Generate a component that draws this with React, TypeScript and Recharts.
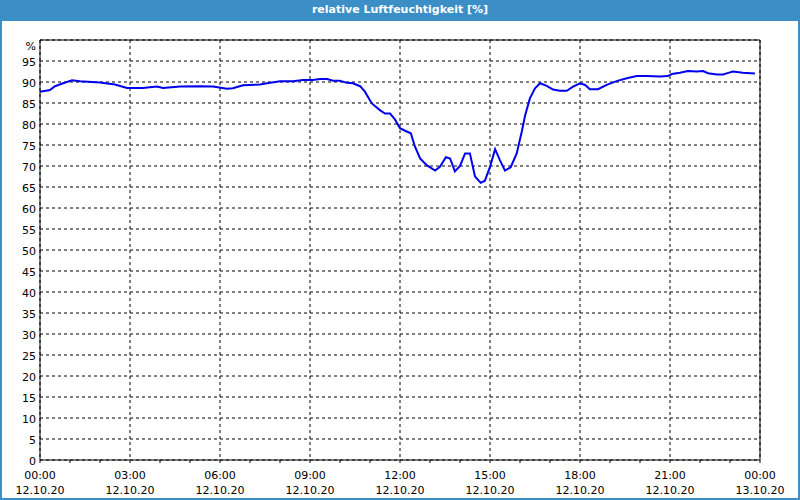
import React from 'react';
import { LineChart, Line, XAxis, YAxis, CartesianGrid, ReferenceLine } from 'recharts';

const hours: number[] = [
  0.0, 0.33, 0.5, 0.77, 1.07, 1.33, 2.0, 2.5, 2.9, 3.43, 3.9, 4.1, 4.67, 5.33, 5.77, 6.23, 6.43, 6.77,
  7.33, 7.57, 8.0, 8.43, 8.77, 9.1, 9.33, 9.57, 9.77, 10.0, 10.23, 10.43, 10.67, 10.83, 11.06, 11.33,
  11.5, 11.67, 11.83, 12.0, 12.17, 12.36, 12.5, 12.67, 12.89, 13.17, 13.33, 13.53, 13.67, 13.83, 14.0,
  14.17, 14.33, 14.5, 14.69, 14.83, 15.0, 15.17, 15.33, 15.5, 15.69, 15.89, 16.06, 16.17, 16.33, 16.5,
  16.67, 16.89, 17.1, 17.33, 17.56, 17.77, 18.0, 18.17, 18.33, 18.6, 18.89, 19.22, 19.56, 19.89, 20.22,
  20.67, 20.93, 21.06, 21.33, 21.6, 21.89, 22.1, 22.27, 22.56, 22.77, 23.0, 23.1, 23.43, 23.83,
];

const humidity: number[] = [
  87.7, 88.1, 89.0, 89.7, 90.4, 90.2, 89.9, 89.4, 88.6, 88.6, 88.9, 88.6, 88.9, 89.0, 88.9, 88.4, 88.5, 89.2,
  89.4, 89.7, 90.2, 90.2, 90.5, 90.5, 90.7, 90.7, 90.3, 90.3, 89.8, 89.7, 89.0, 87.7, 84.9, 83.3,
  82.5, 82.5, 81.1, 79.0, 78.4, 77.8, 74.6, 71.8, 70.2, 68.9, 69.8, 72.1, 71.8, 68.7, 70.0,
  73.0, 73.0, 67.5, 66.0, 66.5, 69.8, 74.0, 71.4, 68.9, 69.7, 73.0, 78.2, 82.0, 86.1, 88.5,
  89.7, 89.1, 88.2, 87.9, 87.9, 88.9, 89.7, 89.3, 88.3, 88.3, 89.3, 90.2, 90.9, 91.4, 91.4,
  91.3, 91.4, 91.9, 92.2, 92.6, 92.5, 92.6, 92.1, 91.8, 91.8, 92.3, 92.5, 92.2, 92.0,
];

const timeLabels: string[] = ['00:00', '03:00', '06:00', '09:00', '12:00', '15:00', '18:00', '21:00', '00:00'];
const dateLabels: string[] = ['12.10.20', '12.10.20', '12.10.20', '12.10.20', '12.10.20', '12.10.20', '12.10.20', '12.10.20', '13.10.20'];
const majorTicks: number[] = [0, 3, 6, 9, 12, 15, 18, 21, 24];
const hourTicks: number[] = Array.from({ length: 25 }, (_, i) => i);
const yTicks: number[] = [0, 5, 10, 15, 20, 25, 30, 35, 40, 45, 50, 55, 60, 65, 70, 75, 80, 85, 90, 95, 100];

const data = hours.map((h, i) => ({ h, v: humidity[i] }));

const FONT = 'Tahoma, "DejaVu Sans", sans-serif';

const XTick = (props: any) => {
  const { x, y, payload } = props;
  const idx = majorTicks.indexOf(payload.value);
  if (idx < 0) return null;
  return (
    <g>
      <text x={x} y={y + 14} textAnchor="middle" fontSize={11} fontFamily={FONT} fill="#000">
        {timeLabels[idx]}
      </text>
      <text x={x} y={y + 29} textAnchor="middle" fontSize={11} fontFamily={FONT} fill="#000">
        {dateLabels[idx]}
      </text>
    </g>
  );
};

const YTick = (props: any) => {
  const { x, y, payload } = props;
  const label = payload.value === 100 ? '%' : String(payload.value);
  const dy = payload.value === 100 ? 10 : 5;
  return (
    <text x={x} y={y + dy} textAnchor="end" fontSize={11} fontFamily={FONT} fill="#000">
      {label}
    </text>
  );
};

export default function App() {
  return (
    <div style={{ position: 'fixed', left: 0, top: 0, width: 800, height: 500, background: '#3c8fc6' }}>
      <div
        style={{
          position: 'absolute', left: 0, top: 0, width: 800, height: 21, lineHeight: '20px',
          textAlign: 'center', color: '#fff', fontWeight: 'bold', fontSize: 11, fontFamily: FONT,
        }}
      >
        relative Luftfeuchtigkeit [%]
      </div>
      <div style={{ position: 'absolute', left: 2, top: 21, width: 796, height: 477, background: '#fff' }} />
      <div style={{ position: 'absolute', left: 0, top: 0 }}>
        <LineChart width={800} height={500} data={data} margin={{ top: 40, right: 40, bottom: 0, left: 0 }}>
          <CartesianGrid stroke="#000" strokeDasharray="3 3" horizontalValues={yTicks} verticalValues={majorTicks} />
          <XAxis
            dataKey="h"
            type="number"
            domain={[0, 24]}
            ticks={hourTicks}
            interval={0}
            height={40}
            tickSize={3}
            tickLine={{ stroke: '#000' }}
            axisLine={{ stroke: '#000' }}
            tick={<XTick />}
          />
          <YAxis
            type="number"
            domain={[0, 100]}
            ticks={yTicks}
            interval={0}
            width={40}
            tickLine={false}
            tickSize={0}
            tickMargin={4}
            axisLine={{ stroke: '#000' }}
            tick={<YTick />}
          />
          <ReferenceLine y={100} stroke="#000" />
          <ReferenceLine x={24} stroke="#000" />
          <Line
            type="linear"
            dataKey="v"
            stroke="#0000ee"
            strokeWidth={2}
            dot={false}
            isAnimationActive={false}
          />
        </LineChart>
      </div>
    </div>
  );
}
